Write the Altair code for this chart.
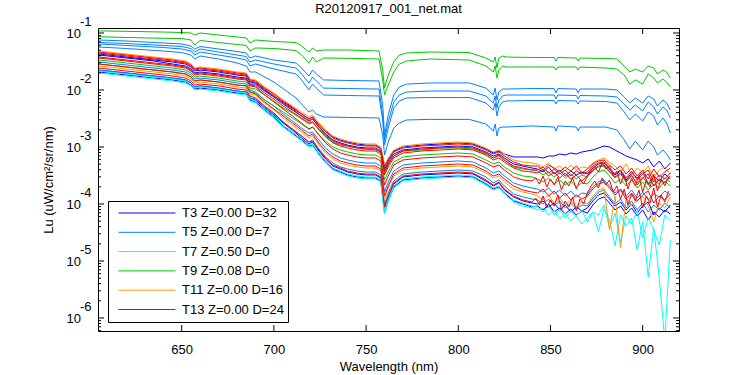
import altair as alt
import pandas as pd

TITLE = "R20120917_001_net.mat"
X_TITLE = "Wavelength (nm)"
Y_TITLE = "Lu (uW/cm²/sr/nm)"
FONT = "Liberation Sans"

CASTS = ["T3 Z=0.00 D=32", "T5 Z=0.00 D=7", "T7 Z=0.50 D=0",
         "T9 Z=0.08 D=0", "T11 Z=0.00 D=16", "T13 Z=0.00 D=24"]
CAST_COLORS = ["#0000ff", "#0080ff", "#00ffff", "#00c800", "#ff9900", "#ff0000"]

X_TICKS = [650, 700, 750, 800, 850, 900]
X_DOMAIN = [604.6, 919.7]
Y_DOMAIN = [5.91e-7, 0.1224]
Y_DECADES = [1e-1, 1e-2, 1e-3, 1e-4, 1e-5, 1e-6]
Y_EXPONENTS = ["-1", "-2", "-3", "-4", "-5", "-6"]
Y_MINOR_DECADES = [1e-1, 1e-2, 1e-3, 1e-4, 1e-5, 1e-6, 1e-7]
Y_MINOR_STEPS = [2, 3, 4, 5, 6, 7, 8, 9]

# ---- upper (near-surface) spectra -------------------------------------------
WL_UPPER = [605, 620, 640, 650, 655, 657, 660, 670, 680, 685, 687, 690, 700, 712, 715,
            719, 721, 723, 727, 740, 757, 759, 760, 762, 765, 768, 772, 785, 806, 815,
            819, 820, 821, 822, 824, 826, 840, 852, 853, 854, 864, 865, 866, 880, 886,
            890, 893, 896, 900, 903, 906, 908, 911, 913, 915]

G1_LU = [1.09e-1, 1.07e-1, 1.04e-1, 1.02e-1, 1.00e-1, 9.22e-2, 1.00e-1, 9.22e-2, 8.51e-2, 8.17e-2,
         6.68e-2, 7.54e-2, 7.10e-2, 6.81e-2, 5.92e-2, 4.64e-2, 5.46e-2, 4.83e-2, 5.03e-2, 5.03e-2,
         4.83e-2, 2.24e-2, 1.08e-2, 1.83e-2, 3.10e-2, 4.11e-2, 4.46e-2, 4.64e-2, 4.54e-2, 3.64e-2,
         3.10e-2, 3.79e-2, 2.43e-2, 3.64e-2, 3.95e-2, 3.79e-2, 3.72e-2, 3.72e-2, 3.23e-2, 3.72e-2,
         3.64e-2, 3.23e-2, 3.64e-2, 3.57e-2, 3.50e-2, 2.64e-2, 2.07e-2, 2.34e-2, 2.07e-2, 2.64e-2,
         2.43e-2, 1.91e-2, 2.24e-2, 2.07e-2, 1.62e-2]
G2_LU = [8.61e-2, 8.34e-2, 8.07e-2, 8.00e-2, 7.54e-2, 6.16e-2, 7.39e-2, 6.81e-2, 6.28e-2, 6.04e-2,
         4.83e-2, 5.46e-2, 5.35e-2, 4.93e-2, 4.11e-2, 2.98e-2, 3.79e-2, 3.10e-2, 3.64e-2, 3.60e-2,
         3.50e-2, 1.50e-2, 8.17e-3, 1.22e-2, 2.07e-2, 2.86e-2, 3.23e-2, 3.50e-2, 3.36e-2, 2.64e-2,
         2.07e-2, 2.64e-2, 1.62e-2, 2.24e-2, 2.64e-2, 2.53e-2, 2.53e-2, 2.53e-2, 2.24e-2, 2.53e-2,
         2.53e-2, 2.24e-2, 2.53e-2, 2.43e-2, 2.34e-2, 1.83e-2, 1.27e-2, 1.50e-2, 1.27e-2, 1.91e-2,
         1.62e-2, 1.33e-2, 1.56e-2, 1.38e-2, 1.13e-2]
LB1_LU = [7.54e-2, 7.24e-2, 6.68e-2, 6.41e-2, 5.92e-2, 5.24e-2, 5.80e-2, 5.24e-2, 4.73e-2, 4.46e-2,
          3.64e-2, 3.95e-2, 3.36e-2, 2.98e-2, 2.43e-2, 1.76e-2, 2.24e-2, 1.91e-2, 1.50e-2, 1.47e-2,
          1.44e-2, 5.46e-3, 1.62e-3, 3.64e-3, 8.17e-3, 1.13e-2, 1.27e-2, 1.33e-2, 1.33e-2, 1.08e-2,
          8.17e-3, 1.08e-2, 6.68e-3, 9.22e-3, 1.04e-2, 1.04e-2, 1.06e-2, 1.06e-2, 8.86e-3, 1.06e-2,
          1.04e-2, 8.86e-3, 1.04e-2, 1.04e-2, 1.00e-2, 7.54e-3, 5.92e-3, 7.24e-3, 5.92e-3, 7.85e-3,
          6.95e-3, 5.24e-3, 6.68e-3, 5.92e-3, 4.46e-3]
LB2_LU = [6.81e-2, 6.54e-2, 6.04e-2, 5.80e-2, 5.35e-2, 4.64e-2, 5.24e-2, 4.64e-2, 4.11e-2, 3.87e-2,
          3.10e-2, 3.36e-2, 2.86e-2, 2.43e-2, 1.91e-2, 1.33e-2, 1.69e-2, 1.44e-2, 1.08e-2, 1.06e-2,
          1.04e-2, 3.64e-3, 1.33e-3, 2.75e-3, 6.16e-3, 8.17e-3, 9.22e-3, 9.60e-3, 9.60e-3, 7.85e-3,
          5.92e-3, 7.85e-3, 4.83e-3, 6.68e-3, 7.85e-3, 8.17e-3, 8.17e-3, 8.17e-3, 6.95e-3, 8.17e-3,
          8.00e-3, 6.95e-3, 8.00e-3, 7.85e-3, 7.54e-3, 5.68e-3, 4.46e-3, 5.46e-3, 4.28e-3, 6.16e-3,
          5.03e-3, 3.79e-3, 5.03e-3, 4.46e-3, 3.23e-3]
LB3_LU = [6.41e-2, 6.04e-2, 5.57e-2, 5.24e-2, 4.83e-2, 4.11e-2, 4.64e-2, 4.11e-2, 3.64e-2, 3.36e-2,
          2.64e-2, 2.86e-2, 2.34e-2, 1.91e-2, 1.50e-2, 1.00e-2, 1.27e-2, 1.08e-2, 8.17e-3, 8.00e-3,
          7.85e-3, 2.98e-3, 1.08e-3, 2.15e-3, 4.83e-3, 6.41e-3, 7.24e-3, 7.39e-3, 7.39e-3, 5.92e-3,
          4.46e-3, 5.92e-3, 3.50e-3, 5.03e-3, 6.16e-3, 6.41e-3, 6.54e-3, 6.54e-3, 5.68e-3, 6.54e-3,
          6.41e-3, 5.68e-3, 6.41e-3, 6.28e-3, 5.92e-3, 4.11e-3, 2.98e-3, 3.79e-3, 2.86e-3, 4.11e-3,
          3.50e-3, 2.43e-3, 3.23e-3, 2.64e-3, 1.76e-3]
LB4_LU = [5.68e-2, 5.35e-2, 4.83e-2, 4.54e-2, 4.11e-2, 3.50e-2, 3.95e-2, 3.50e-2, 2.98e-2, 2.64e-2,
          2.07e-2, 2.07e-2, 1.38e-2, 7.24e-3, 5.68e-3, 4.11e-3, 4.46e-3, 3.79e-3, 3.36e-3, 3.30e-3,
          3.23e-3, 1.62e-3, 7.24e-4, 1.22e-3, 2.15e-3, 2.64e-3, 2.98e-3, 3.05e-3, 3.05e-3, 2.53e-3,
          1.91e-3, 2.53e-3, 1.56e-3, 2.15e-3, 2.24e-3, 2.24e-3, 2.34e-3, 2.24e-3, 1.91e-3, 2.34e-3,
          2.24e-3, 1.91e-3, 2.24e-3, 2.24e-3, 1.99e-3, 1.33e-3, 9.22e-4, 1.27e-3, 8.86e-4, 1.27e-3,
          1.00e-3, 7.24e-4, 8.86e-4, 7.54e-4, 5.92e-4]

# ---- deeper spectra (main bunch) --------------------------------------------
WL_BUNCH = [605, 615, 625, 635, 645, 652, 655, 657, 660, 670, 680, 685, 687, 690, 695,
            700, 705, 710, 715, 719, 721, 724, 728, 732, 736, 740, 745, 750, 755, 758,
            760, 762, 765, 770, 780, 790, 800, 808, 815, 819, 822, 825, 830, 835, 840,
            843, 846, 849, 852, 855, 858, 861, 864, 867, 870, 873, 876, 879, 882, 885,
            888, 891, 894, 897, 900, 903, 906, 909, 912, 915]
WL_DENSE = [605, 615, 625, 635, 645, 652, 655, 657, 660, 670, 680, 685, 687, 690, 695,
            700, 705, 710, 715, 719, 721, 724, 728, 732, 736, 740, 745, 750, 755, 758,
            760, 762, 765, 770, 780, 790, 800, 808, 815, 819, 822, 825, 830, 835, 840,
            842, 844, 846, 848, 850, 852, 854, 856, 858, 860, 862, 864, 866, 868, 870,
            872, 874, 876, 878, 880, 882, 884, 886, 888, 890, 892, 894, 896, 898, 900,
            902, 904, 906, 908, 910, 912, 914]

B01_LU = [4.83e-2, 4.46e-2, 4.11e-2, 3.79e-2, 3.50e-2, 3.23e-2, 2.86e-2, 2.43e-2, 2.53e-2, 2.34e-2,
          2.07e-2, 1.99e-2, 1.56e-2, 1.50e-2, 1.13e-2, 8.86e-3, 6.68e-3, 5.24e-3, 4.11e-3, 3.36e-3,
          3.64e-3, 2.75e-3, 1.99e-3, 1.56e-3, 1.38e-3, 1.27e-3, 1.18e-3, 1.13e-3, 1.13e-3, 1.00e-3,
          4.83e-4, 6.41e-4, 8.86e-4, 1.04e-3, 1.13e-3, 1.18e-3, 1.22e-3, 1.18e-3, 9.60e-4, 8.17e-4,
          8.86e-4, 7.54e-4, 5.92e-4, 5.46e-4, 5.24e-4,
          5.03e-4, 4.46e-4, 5.24e-4, 4.11e-4, 4.64e-4, 3.79e-4, 4.83e-4, 3.95e-4, 4.46e-4, 4.28e-4,
          5.24e-4, 5.92e-4, 6.41e-4, 5.46e-4, 4.64e-4, 3.64e-4, 5.03e-4, 3.23e-4, 4.28e-4, 3.50e-4,
          4.64e-4, 2.86e-4, 3.95e-4, 4.46e-4, 3.36e-4]
B02_LU = [4.64e-2, 4.28e-2, 3.95e-2, 3.64e-2, 3.36e-2, 3.10e-2, 2.75e-2, 2.34e-2, 2.43e-2, 2.24e-2,
          1.99e-2, 1.91e-2, 1.50e-2, 1.44e-2, 1.08e-2, 8.51e-3, 6.41e-3, 5.03e-3, 3.79e-3, 3.10e-3,
          3.36e-3, 2.53e-3, 1.83e-3, 1.44e-3, 1.27e-3, 1.18e-3, 1.08e-3, 1.04e-3, 1.04e-3, 9.22e-4,
          4.28e-4, 5.68e-4, 8.17e-4, 9.60e-4, 1.04e-3, 1.08e-3, 1.13e-3, 1.08e-3, 8.86e-4, 7.54e-4,
          8.17e-4, 6.95e-4, 5.46e-4, 4.83e-4, 4.64e-4,
          4.64e-4, 3.95e-4, 4.83e-4, 4.28e-4, 3.64e-4, 4.46e-4, 3.79e-4, 4.64e-4, 3.50e-4, 4.11e-4,
          5.03e-4, 5.68e-4, 5.92e-4, 4.83e-4, 3.95e-4, 4.64e-4, 3.36e-4, 4.28e-4, 3.10e-4, 3.95e-4,
          2.75e-4, 4.11e-4, 2.98e-4, 3.64e-4, 4.28e-4]
B03_LU = [4.46e-2, 4.11e-2, 3.79e-2, 3.50e-2, 3.23e-2, 2.98e-2, 2.64e-2, 2.24e-2, 2.34e-2, 2.15e-2,
          1.91e-2, 1.83e-2, 1.44e-2, 1.38e-2, 1.04e-2, 7.85e-3, 5.92e-3, 4.64e-3, 3.50e-3, 2.86e-3,
          3.10e-3, 2.34e-3, 1.62e-3, 1.27e-3, 1.13e-3, 1.04e-3, 9.60e-4, 9.22e-4, 9.22e-4, 8.17e-4,
          3.64e-4, 5.03e-4, 6.95e-4, 8.51e-4, 9.22e-4, 9.60e-4, 1.00e-3, 9.60e-4, 7.85e-4, 6.41e-4,
          7.24e-4, 5.92e-4, 4.64e-4, 4.28e-4, 3.95e-4,
          3.95e-4, 4.46e-4, 3.50e-4, 4.11e-4, 3.36e-4, 3.95e-4, 3.10e-4, 3.79e-4, 3.36e-4, 3.64e-4,
          4.64e-4, 5.24e-4, 5.46e-4, 4.28e-4, 3.36e-4, 3.95e-4, 2.86e-4, 3.79e-4, 2.64e-4, 3.36e-4,
          3.95e-4, 2.43e-4, 3.23e-4, 2.75e-4, 3.50e-4]
B04_LU = [4.28e-2, 3.95e-2, 3.64e-2, 3.36e-2, 3.10e-2, 2.86e-2, 2.53e-2, 2.15e-2, 2.24e-2, 2.07e-2,
          1.83e-2, 1.76e-2, 1.38e-2, 1.33e-2, 1.00e-2, 7.85e-3, 6.16e-3, 4.83e-3, 3.79e-3, 3.10e-3,
          3.36e-3, 2.53e-3, 1.91e-3, 1.50e-3, 1.33e-3, 1.22e-3, 1.13e-3, 1.08e-3, 1.08e-3, 9.60e-4,
          4.64e-4, 6.16e-4, 8.51e-4, 1.00e-3, 1.08e-3, 1.13e-3, 1.18e-3, 1.13e-3, 9.22e-4, 7.85e-4,
          8.51e-4, 7.54e-4, 6.68e-4, 6.68e-4, 6.68e-4,
          6.68e-4, 6.41e-4, 6.95e-4, 6.95e-4, 7.54e-4, 7.24e-4, 7.85e-4, 7.54e-4, 8.17e-4, 8.51e-4,
          8.86e-4, 9.60e-4, 1.04e-3, 1.00e-3, 8.86e-4, 7.85e-4, 6.95e-4, 6.41e-4, 5.92e-4, 5.24e-4,
          6.16e-4, 4.46e-4, 5.68e-4, 4.11e-4, 5.24e-4]
B05_LU = [4.11e-2, 3.79e-2, 3.50e-2, 3.23e-2, 2.86e-2, 2.64e-2, 2.34e-2, 1.99e-2, 2.07e-2, 1.91e-2,
          1.69e-2, 1.62e-2, 1.27e-2, 1.27e-2, 9.60e-3, 7.54e-3, 5.68e-3, 4.46e-3, 3.50e-3, 2.86e-3,
          3.10e-3, 2.34e-3, 1.69e-3, 1.33e-3, 1.18e-3, 1.08e-3, 1.00e-3, 9.60e-4, 9.60e-4, 8.51e-4,
          3.95e-4, 5.46e-4, 7.54e-4, 8.86e-4, 9.60e-4, 1.00e-3, 1.04e-3, 1.00e-3, 8.17e-4, 6.95e-4,
          7.54e-4, 6.41e-4, 5.03e-4, 4.64e-4, 4.28e-4,
          4.11e-4, 3.64e-4, 4.46e-4, 3.36e-4, 3.95e-4, 3.10e-4, 3.79e-4, 3.23e-4, 3.64e-4, 3.36e-4,
          4.28e-4, 5.03e-4, 5.24e-4, 4.11e-4, 3.23e-4, 3.79e-4, 2.64e-4, 3.50e-4, 2.86e-4, 3.64e-4,
          2.24e-4, 3.10e-4, 2.53e-4, 3.36e-4, 2.75e-4]
B06_LU = [3.79e-2, 3.50e-2, 3.23e-2, 2.98e-2, 2.75e-2, 2.53e-2, 2.24e-2, 1.91e-2, 1.99e-2, 1.83e-2,
          1.62e-2, 1.56e-2, 1.22e-2, 1.18e-2, 8.86e-3, 6.95e-3, 5.24e-3, 4.11e-3, 3.23e-3, 2.64e-3,
          2.75e-3, 2.07e-3, 1.50e-3, 1.18e-3, 1.04e-3, 9.60e-4, 8.86e-4, 8.51e-4, 8.51e-4, 7.54e-4,
          3.23e-4, 4.46e-4, 6.41e-4, 7.85e-4, 8.51e-4, 8.86e-4, 9.22e-4, 8.86e-4, 7.24e-4, 5.92e-4,
          6.41e-4, 5.46e-4, 4.28e-4, 3.79e-4, 3.64e-4,
          3.50e-4, 3.95e-4, 3.10e-4, 3.64e-4, 2.86e-4, 3.50e-4, 2.75e-4, 3.23e-4, 2.53e-4, 3.10e-4,
          3.95e-4, 4.64e-4, 4.83e-4, 3.79e-4, 2.98e-4, 3.50e-4, 2.43e-4, 3.23e-4, 2.15e-4, 2.86e-4,
          3.36e-4, 2.07e-4, 2.75e-4, 2.34e-4, 3.10e-4]
B07_LU = [3.36e-2, 3.10e-2, 2.86e-2, 2.64e-2, 2.43e-2, 2.24e-2, 1.99e-2, 1.69e-2, 1.76e-2, 1.62e-2,
          1.44e-2, 1.38e-2, 1.08e-2, 1.04e-2, 8.17e-3, 6.41e-3, 4.83e-3, 3.95e-3, 3.10e-3, 2.53e-3,
          2.75e-3, 2.15e-3, 1.56e-3, 1.22e-3, 1.08e-3, 1.04e-3, 9.60e-4, 9.22e-4, 8.86e-4, 8.17e-4,
          3.50e-4, 4.83e-4, 6.95e-4, 8.51e-4, 8.86e-4, 9.60e-4, 9.60e-4, 9.22e-4, 7.54e-4, 6.41e-4,
          6.95e-4, 5.92e-4, 4.46e-4, 4.11e-4, 3.95e-4,
          3.79e-4, 3.23e-4, 3.64e-4, 2.98e-4, 3.50e-4, 2.86e-4, 3.36e-4, 2.75e-4, 3.23e-4, 2.98e-4,
          3.79e-4, 4.46e-4, 4.64e-4, 3.64e-4, 2.86e-4, 3.36e-4, 2.53e-4, 3.10e-4, 2.34e-4, 2.98e-4,
          2.15e-4, 2.75e-4, 2.24e-4, 2.86e-4, 2.43e-4]
B08_LU = [2.86e-2, 2.64e-2, 2.43e-2, 2.24e-2, 2.07e-2, 1.91e-2, 1.69e-2, 1.44e-2, 1.50e-2, 1.38e-2,
          1.22e-2, 1.18e-2, 9.22e-3, 8.86e-3, 6.68e-3, 5.24e-3, 4.11e-3, 3.23e-3, 2.53e-3, 2.07e-3,
          2.24e-3, 1.69e-3, 1.27e-3, 1.00e-3, 8.86e-4, 8.17e-4, 7.54e-4, 7.24e-4, 7.24e-4, 6.41e-4,
          2.64e-4, 3.64e-4, 5.46e-4, 6.68e-4, 7.24e-4, 7.54e-4, 7.85e-4, 7.54e-4, 5.92e-4, 5.03e-4,
          5.46e-4, 4.46e-4, 3.50e-4, 3.10e-4, 2.98e-4,
          2.75e-4, 2.43e-4, 2.86e-4, 2.24e-4, 2.64e-4, 2.15e-4, 2.53e-4, 1.99e-4, 2.34e-4, 2.24e-4,
          2.98e-4, 3.64e-4, 3.95e-4, 3.10e-4, 2.34e-4, 2.75e-4, 2.07e-4, 2.64e-4, 1.91e-4, 2.43e-4,
          1.76e-4, 2.24e-4, 1.91e-4, 2.53e-4, 2.07e-4]
B09_LU = [3.10e-2, 2.86e-2, 2.64e-2, 2.43e-2, 2.24e-2, 2.07e-2, 1.83e-2, 1.56e-2, 1.62e-2, 1.50e-2,
          1.33e-2, 1.27e-2, 1.00e-2, 9.22e-3, 6.68e-3, 5.24e-3, 3.79e-3, 2.86e-3, 2.15e-3, 1.76e-3,
          1.83e-3, 1.38e-3, 9.60e-4, 7.54e-4, 6.41e-4, 5.92e-4, 5.46e-4, 5.24e-4, 5.24e-4, 4.64e-4,
          1.62e-4, 2.43e-4, 3.79e-4, 4.83e-4, 5.24e-4, 5.46e-4, 5.68e-4, 5.46e-4, 4.28e-4, 3.50e-4,
          3.79e-4, 3.10e-4, 2.34e-4, 2.07e-4, 1.91e-4,
          1.83e-4, 1.62e-4, 1.91e-4, 1.50e-4, 1.76e-4, 1.38e-4, 1.69e-4, 1.33e-4, 1.56e-4, 1.50e-4,
          1.99e-4, 2.43e-4, 2.64e-4, 2.07e-4, 1.56e-4, 1.83e-4, 1.38e-4, 1.76e-4, 1.27e-4, 1.62e-4,
          1.18e-4, 1.50e-4, 1.33e-4, 1.69e-4, 1.44e-4]
B10_LU = [2.86e-2, 2.64e-2, 2.43e-2, 2.24e-2, 2.07e-2, 1.91e-2, 1.69e-2, 1.44e-2, 1.50e-2, 1.38e-2,
          1.22e-2, 1.18e-2, 9.22e-3, 8.51e-3, 6.16e-3, 4.64e-3, 3.50e-3, 2.64e-3, 1.99e-3, 1.56e-3,
          1.69e-3, 1.22e-3, 8.51e-4, 6.68e-4, 5.68e-4, 5.24e-4, 4.83e-4, 4.64e-4, 4.64e-4, 4.11e-4,
          1.38e-4, 2.07e-4, 3.36e-4, 4.28e-4, 4.64e-4, 4.83e-4, 5.03e-4, 4.83e-4, 3.79e-4, 3.10e-4,
          3.36e-4, 2.75e-4, 2.07e-4, 1.76e-4, 1.62e-4,
          1.56e-4, 1.83e-4, 1.38e-4, 1.69e-4, 1.27e-4, 1.56e-4, 1.18e-4, 1.44e-4, 1.22e-4, 1.38e-4,
          1.83e-4, 2.24e-4, 2.43e-4, 1.91e-4, 1.44e-4, 1.76e-4, 1.22e-4, 1.56e-4, 1.13e-4, 1.44e-4,
          1.69e-4, 1.04e-4, 1.38e-4, 1.18e-4, 1.50e-4]
B11_LU = [2.64e-2, 2.43e-2, 2.24e-2, 2.07e-2, 1.91e-2, 1.76e-2, 1.56e-2, 1.33e-2, 1.38e-2, 1.27e-2,
          1.13e-2, 1.08e-2, 8.51e-3, 8.17e-3, 5.92e-3, 4.46e-3, 3.23e-3, 2.43e-3, 1.83e-3, 1.44e-3,
          1.56e-3, 1.13e-3, 7.85e-4, 6.16e-4, 5.24e-4, 4.83e-4, 4.46e-4, 4.28e-4, 4.28e-4, 3.79e-4,
          1.22e-4, 1.91e-4, 3.10e-4, 3.95e-4, 4.28e-4, 4.46e-4, 4.64e-4, 4.46e-4, 3.50e-4, 2.86e-4,
          3.10e-4, 2.43e-4, 1.83e-4, 1.62e-4, 1.50e-4,
          1.38e-4, 1.18e-4, 1.44e-4, 1.04e-4, 1.27e-4, 9.60e-5, 1.18e-4, 8.86e-5, 1.08e-4, 1.00e-4,
          1.38e-4, 1.76e-4, 1.91e-4, 3.50e-5, 1.38e-4, 1.69e-5, 1.27e-4, 9.60e-5, 1.13e-4, 1.38e-4,
          9.22e-5, 4.83e-5, 1.04e-4, 8.51e-5, 1.33e-4]
B12_LU = [2.24e-2, 2.07e-2, 1.91e-2, 1.76e-2, 1.62e-2, 1.50e-2, 1.33e-2, 1.13e-2, 1.18e-2, 1.08e-2,
          9.60e-3, 9.22e-3, 7.24e-3, 6.95e-3, 5.03e-3, 3.79e-3, 2.75e-3, 2.07e-3, 1.56e-3, 1.22e-3,
          1.33e-3, 9.60e-4, 6.68e-4, 5.24e-4, 4.46e-4, 4.11e-4, 3.79e-4, 3.64e-4, 3.64e-4, 3.23e-4,
          1.00e-4, 1.56e-4, 2.53e-4, 3.36e-4, 3.64e-4, 3.79e-4, 3.95e-4, 3.79e-4, 2.98e-4, 2.34e-4,
          2.64e-4, 2.07e-4, 1.50e-4, 1.33e-4, 1.22e-4,
          1.18e-4, 1.00e-4, 1.22e-4, 9.22e-5, 1.13e-4, 8.51e-5, 1.04e-4, 8.17e-5, 9.60e-5, 9.22e-5,
          1.27e-4, 1.62e-4, 1.76e-4, 1.33e-4, 1.00e-4, 1.22e-4, 8.51e-5, 1.13e-4, 7.85e-5, 1.04e-4,
          7.24e-5, 9.60e-5, 7.85e-5, 1.04e-4, 8.51e-5]
B13_LU = [2.24e-2, 2.07e-2, 1.91e-2, 1.76e-2, 1.62e-2, 1.50e-2, 1.33e-2, 1.13e-2, 1.18e-2, 1.08e-2,
          9.60e-3, 9.22e-3, 7.24e-3, 6.68e-3, 4.83e-3, 3.64e-3, 2.64e-3, 1.99e-3, 1.44e-3, 1.13e-3,
          1.22e-3, 8.86e-4, 6.16e-4, 4.64e-4, 4.11e-4, 3.64e-4, 3.36e-4, 3.23e-4, 3.23e-4, 2.86e-4,
          8.51e-5, 1.33e-4, 2.24e-4, 2.98e-4, 3.23e-4, 3.36e-4, 3.50e-4, 3.36e-4, 2.53e-4, 2.07e-4,
          2.34e-4, 1.76e-4, 1.33e-4, 1.13e-4, 1.04e-4,
          1.00e-4, 1.13e-4, 8.86e-5, 1.04e-4, 7.85e-5, 9.60e-5, 7.24e-5, 8.86e-5, 7.54e-5, 8.51e-5,
          1.13e-4, 1.44e-4, 1.56e-4, 1.22e-4, 9.22e-5, 1.08e-4, 7.85e-5, 1.00e-4, 6.95e-5, 9.22e-5,
          1.08e-4, 6.41e-5, 8.51e-5, 7.24e-5, 9.60e-5]
B14_LU = [2.15e-2, 1.99e-2, 1.83e-2, 1.69e-2, 1.56e-2, 1.44e-2, 1.27e-2, 1.08e-2, 1.13e-2, 1.04e-2,
          9.22e-3, 8.86e-3, 6.95e-3, 6.41e-3, 4.64e-3, 3.50e-3, 2.43e-3, 1.83e-3, 1.38e-3, 1.08e-3,
          1.13e-3, 8.17e-4, 5.68e-4, 4.28e-4, 3.79e-4, 3.36e-4, 3.10e-4, 2.98e-4, 2.98e-4, 2.64e-4,
          7.54e-5, 1.22e-4, 2.07e-4, 2.75e-4, 2.98e-4, 3.10e-4, 3.23e-4, 3.10e-4, 2.34e-4, 1.91e-4,
          2.07e-4, 1.62e-4, 1.18e-4, 1.04e-4, 9.22e-5,
          8.86e-5, 7.24e-5, 9.22e-5, 6.41e-5, 8.17e-5, 5.68e-5, 7.54e-5, 6.16e-5, 7.85e-5, 4.83e-5,
          7.24e-5, 6.41e-5, 9.60e-5, 3.79e-5, 6.95e-5, 2.07e-5, 6.16e-5, 4.46e-5, 7.54e-5, 2.53e-5,
          5.68e-5, 3.50e-5, 1.91e-5, 6.41e-5, 5.03e-5]
B15_LU = [2.07e-2, 1.91e-2, 1.76e-2, 1.62e-2, 1.50e-2, 1.38e-2, 1.22e-2, 1.04e-2, 1.08e-2, 1.00e-2,
          8.86e-3, 8.51e-3, 6.68e-3, 6.16e-3, 4.46e-3, 3.36e-3, 2.34e-3, 1.76e-3, 1.33e-3, 1.04e-3,
          1.08e-3, 7.85e-4, 5.46e-4, 4.11e-4, 3.64e-4, 3.23e-4, 2.98e-4, 2.86e-4, 2.86e-4, 2.53e-4,
          6.95e-5, 1.18e-4, 1.99e-4, 2.64e-4, 2.86e-4, 2.98e-4, 3.10e-4, 2.98e-4, 2.24e-4, 1.83e-4,
          1.99e-4, 1.56e-4, 1.13e-4, 1.00e-4, 8.86e-5,
          9.22e-5, 7.85e-5, 1.00e-4, 7.24e-5, 8.51e-5, 6.68e-5, 8.17e-5, 6.41e-5, 7.54e-5, 6.95e-5,
          9.60e-5, 1.22e-4, 1.33e-4, 1.04e-4, 7.85e-5, 9.22e-5, 6.68e-5, 8.51e-5, 6.16e-5, 7.85e-5,
          5.24e-5, 7.24e-5, 5.92e-5, 7.85e-5, 6.68e-5]
B16_LU = [1.99e-2, 1.83e-2, 1.69e-2, 1.56e-2, 1.44e-2, 1.33e-2, 1.18e-2, 1.00e-2, 1.04e-2, 9.60e-3,
          8.51e-3, 8.17e-3, 6.41e-3, 5.92e-3, 4.28e-3, 3.23e-3, 2.24e-3, 1.69e-3, 1.27e-3, 1.00e-3,
          1.04e-3, 7.54e-4, 5.24e-4, 3.95e-4, 3.50e-4, 3.10e-4, 2.86e-4, 2.75e-4, 2.75e-4, 2.43e-4,
          6.68e-5, 1.08e-4, 1.91e-4, 2.53e-4, 2.75e-4, 2.86e-4, 2.98e-4, 2.86e-4, 2.15e-4, 1.76e-4,
          1.91e-4, 1.50e-4, 1.08e-4, 9.22e-5, 8.51e-5,
          7.85e-5, 8.51e-5, 6.41e-5, 7.54e-5, 5.46e-5, 6.95e-5, 5.03e-5, 6.16e-5, 4.46e-5, 5.68e-5,
          7.24e-5, 3.23e-5, 8.17e-5, 5.24e-5, 1.83e-5, 6.41e-5, 4.11e-5, 5.68e-5, 1.56e-5, 4.83e-5,
          5.24e-6, 3.79e-5, 5.03e-6, 4.0e-7, 2.34e-5]
R1_LU = [3.64e-2, 3.36e-2, 3.10e-2, 2.86e-2, 2.64e-2, 2.43e-2, 2.15e-2, 1.83e-2, 1.91e-2, 1.76e-2,
         1.56e-2, 1.50e-2, 1.18e-2, 1.13e-2, 8.17e-3, 6.16e-3, 4.64e-3, 3.50e-3, 2.64e-3, 2.07e-3,
         2.24e-3, 1.69e-3, 1.18e-3, 9.22e-4, 7.85e-4, 7.24e-4, 6.68e-4, 6.41e-4, 6.41e-4, 5.68e-4,
         2.15e-4, 3.10e-4, 4.83e-4, 5.92e-4, 6.41e-4, 6.68e-4, 6.95e-4, 6.68e-4, 5.24e-4, 4.46e-4,
         4.83e-4, 3.95e-4, 2.98e-4, 2.64e-4, 2.53e-4,
         2.86e-4, 2.24e-4, 3.10e-4, 1.99e-4, 2.75e-4, 2.15e-4, 2.98e-4, 1.76e-4, 2.53e-4, 2.07e-4,
         2.86e-4, 1.83e-4, 2.64e-4, 2.24e-4, 3.10e-4, 3.95e-4, 4.46e-4, 3.64e-4, 5.24e-4, 4.11e-4,
         4.64e-4, 3.10e-4, 3.79e-4, 2.24e-4, 3.23e-4, 1.83e-4, 2.86e-4, 2.07e-4, 3.10e-4, 1.62e-4,
         2.64e-4, 1.99e-4, 3.36e-4, 1.69e-4, 2.75e-4, 2.07e-4, 2.98e-4]
R2_LU = [2.43e-2, 2.24e-2, 2.07e-2, 1.91e-2, 1.76e-2, 1.62e-2, 1.44e-2, 1.22e-2, 1.27e-2, 1.18e-2,
         1.04e-2, 1.00e-2, 7.85e-3, 7.24e-3, 5.24e-3, 3.95e-3, 2.75e-3, 2.07e-3, 1.56e-3, 1.22e-3,
         1.27e-3, 9.22e-4, 6.41e-4, 4.83e-4, 4.28e-4, 3.79e-4, 3.50e-4, 3.36e-4, 3.36e-4, 2.98e-4,
         8.86e-5, 1.38e-4, 2.34e-4, 3.10e-4, 3.36e-4, 3.50e-4, 3.64e-4, 3.50e-4, 2.64e-4, 2.15e-4,
         2.43e-4, 1.83e-4, 1.38e-4, 1.18e-4, 1.08e-4,
         1.27e-4, 9.60e-5, 1.38e-4, 8.51e-5, 1.18e-4, 9.22e-5, 1.44e-4, 7.85e-5, 1.13e-4, 8.86e-5,
         1.33e-4, 7.54e-5, 1.22e-4, 1.00e-4, 1.56e-4, 2.07e-4, 2.53e-4, 1.91e-4, 2.86e-4, 2.15e-4,
         2.64e-4, 1.62e-4, 2.07e-4, 1.22e-4, 1.83e-4, 9.60e-5, 1.50e-4, 1.13e-4, 1.76e-4, 8.51e-5,
         1.38e-4, 1.04e-4, 1.91e-4, 8.86e-5, 1.44e-4, 1.08e-4, 1.69e-4]

# (series id, cast, wavelengths, radiance) -- drawn in this order
SERIES = [
    ("b04", CASTS[0], WL_BUNCH, B04_LU), ("b05", CASTS[0], WL_BUNCH, B05_LU),
    ("b13", CASTS[0], WL_BUNCH, B13_LU), ("b15", CASTS[0], WL_BUNCH, B15_LU),
    ("lb1", CASTS[1], WL_UPPER, LB1_LU), ("lb2", CASTS[1], WL_UPPER, LB2_LU),
    ("lb3", CASTS[1], WL_UPPER, LB3_LU), ("lb4", CASTS[1], WL_UPPER, LB4_LU),
    ("b09", CASTS[1], WL_BUNCH, B09_LU), ("b12", CASTS[1], WL_BUNCH, B12_LU),
    ("b14", CASTS[2], WL_BUNCH, B14_LU), ("b16", CASTS[2], WL_BUNCH, B16_LU),
    ("g1", CASTS[3], WL_UPPER, G1_LU), ("g2", CASTS[3], WL_UPPER, G2_LU),
    ("b07", CASTS[3], WL_BUNCH, B07_LU), ("b08", CASTS[3], WL_BUNCH, B08_LU),
    ("b01", CASTS[4], WL_BUNCH, B01_LU), ("b11", CASTS[4], WL_BUNCH, B11_LU),
    ("b02", CASTS[5], WL_BUNCH, B02_LU), ("b03", CASTS[5], WL_BUNCH, B03_LU),
    ("b06", CASTS[5], WL_BUNCH, B06_LU), ("b10", CASTS[5], WL_BUNCH, B10_LU),
    ("r1", CASTS[5], WL_DENSE, R1_LU), ("r2", CASTS[5], WL_DENSE, R2_LU),
]

rows = []
for sid, cast, wls, lus in SERIES:
    if len(wls) != len(lus):
        raise ValueError(f"{sid}: {len(wls)} wavelengths vs {len(lus)} values")
    for w, v in zip(wls, lus):
        rows.append({"sid": sid, "cast": cast, "wl": w, "lu": v})
df = pd.DataFrame(rows)

W, H = 581, 303

X_ENC = alt.X("wl:Q",
              scale=alt.Scale(domain=X_DOMAIN, nice=False, zero=False),
              axis=alt.Axis(values=X_TICKS, title=X_TITLE, grid=False, domain=False,
                            ticks=False, tickSize=0, labelPadding=12, labelFontSize=13,
                            labelFont=FONT, labelColor="black", titleFont=FONT,
                            titleFontSize=13, titleFontWeight="normal", titleColor="black",
                            titleX=W / 2, titleY=35, titleBaseline="middle",
                            minExtent=0, labelFlush=False))
Y_ENC = alt.Y("lu:Q",
              scale=alt.Scale(type="log", domain=Y_DOMAIN, nice=False),
              axis=alt.Axis(labels=False, ticks=False, domain=False, grid=False,
                            title=Y_TITLE, titleFont=FONT, titleFontSize=13,
                            titleFontWeight="normal", titleColor="black",
                            titleX=-50, titleY=H / 2, titleAngle=270, titleAlign="center",
                            titleBaseline="middle", minExtent=0))
COLOR_ENC = alt.Color("cast:N",
                      scale=alt.Scale(domain=CASTS, range=CAST_COLORS),
                      legend=alt.Legend(title=None, orient="none", legendX=10, legendY=173,
                                        direction="vertical", symbolType="stroke",
                                        symbolSize=3249, symbolStrokeWidth=1, clipHeight=16,
                                        rowPadding=3.3, padding=4, symbolOffset=6,
                                        labelOffset=6, labelFontSize=13, labelFont=FONT,
                                        labelColor="black", strokeColor="black",
                                        fillColor="white", cornerRadius=0, labelLimit=300))

line_layers = [
    alt.Chart(df[df["cast"] == c]).mark_line(strokeWidth=1, clip=True).encode(
        x=X_ENC, y=Y_ENC, color=COLOR_ENC, detail="sid:N")
    for c in CASTS
]

minor_vals = [m * d for d in Y_MINOR_DECADES for m in Y_MINOR_STEPS
              if Y_DOMAIN[0] <= m * d <= Y_DOMAIN[1]]
ymaj = pd.DataFrame({"lu": Y_DECADES, "exp": Y_EXPONENTS})
ymin = pd.DataFrame({"lu": minor_vals})
xmaj = pd.DataFrame({"wl": X_TICKS})

def rule(data):
    return alt.Chart(data).mark_rule(color="black", strokeWidth=1)

ticks = [
    rule(ymaj).encode(y=Y_ENC, x=alt.value(0), x2=alt.value(6)),
    rule(ymaj).encode(y=Y_ENC, x=alt.value(W), x2=alt.value(W - 6)),
    rule(ymin).encode(y=Y_ENC, x=alt.value(0), x2=alt.value(3)),
    rule(ymin).encode(y=Y_ENC, x=alt.value(W), x2=alt.value(W - 3)),
    rule(xmaj).encode(x=X_ENC, y=alt.value(H), y2=alt.value(H - 6)),
    rule(xmaj).encode(x=X_ENC, y=alt.value(0), y2=alt.value(6)),
]

ylab10 = alt.Chart(ymaj).mark_text(align="right", baseline="middle", fontSize=13,
                                   font=FONT, color="black", dy=1).encode(
    y=Y_ENC, x=alt.value(-17), text=alt.value("10"))
ylabexp = alt.Chart(ymaj).mark_text(align="left", baseline="middle", fontSize=13,
                                    font=FONT, color="black", dy=-11).encode(
    y=Y_ENC, x=alt.value(-18), text="exp:N")

chart = alt.layer(*line_layers, *ticks, ylab10, ylabexp).properties(
    width=W, height=H,
    autosize="none",
    padding={"left": 98, "top": 28, "right": 71, "bottom": 44},
    title=alt.TitleParams(TITLE, fontSize=13, fontWeight="normal", font=FONT,
                          color="black", anchor="middle", frame="group", offset=0),
    background="white",
).configure(font=FONT).configure_view(stroke="black", strokeWidth=1)

chart.save("out.html", embed_options={"renderer": "svg", "actions": False})
